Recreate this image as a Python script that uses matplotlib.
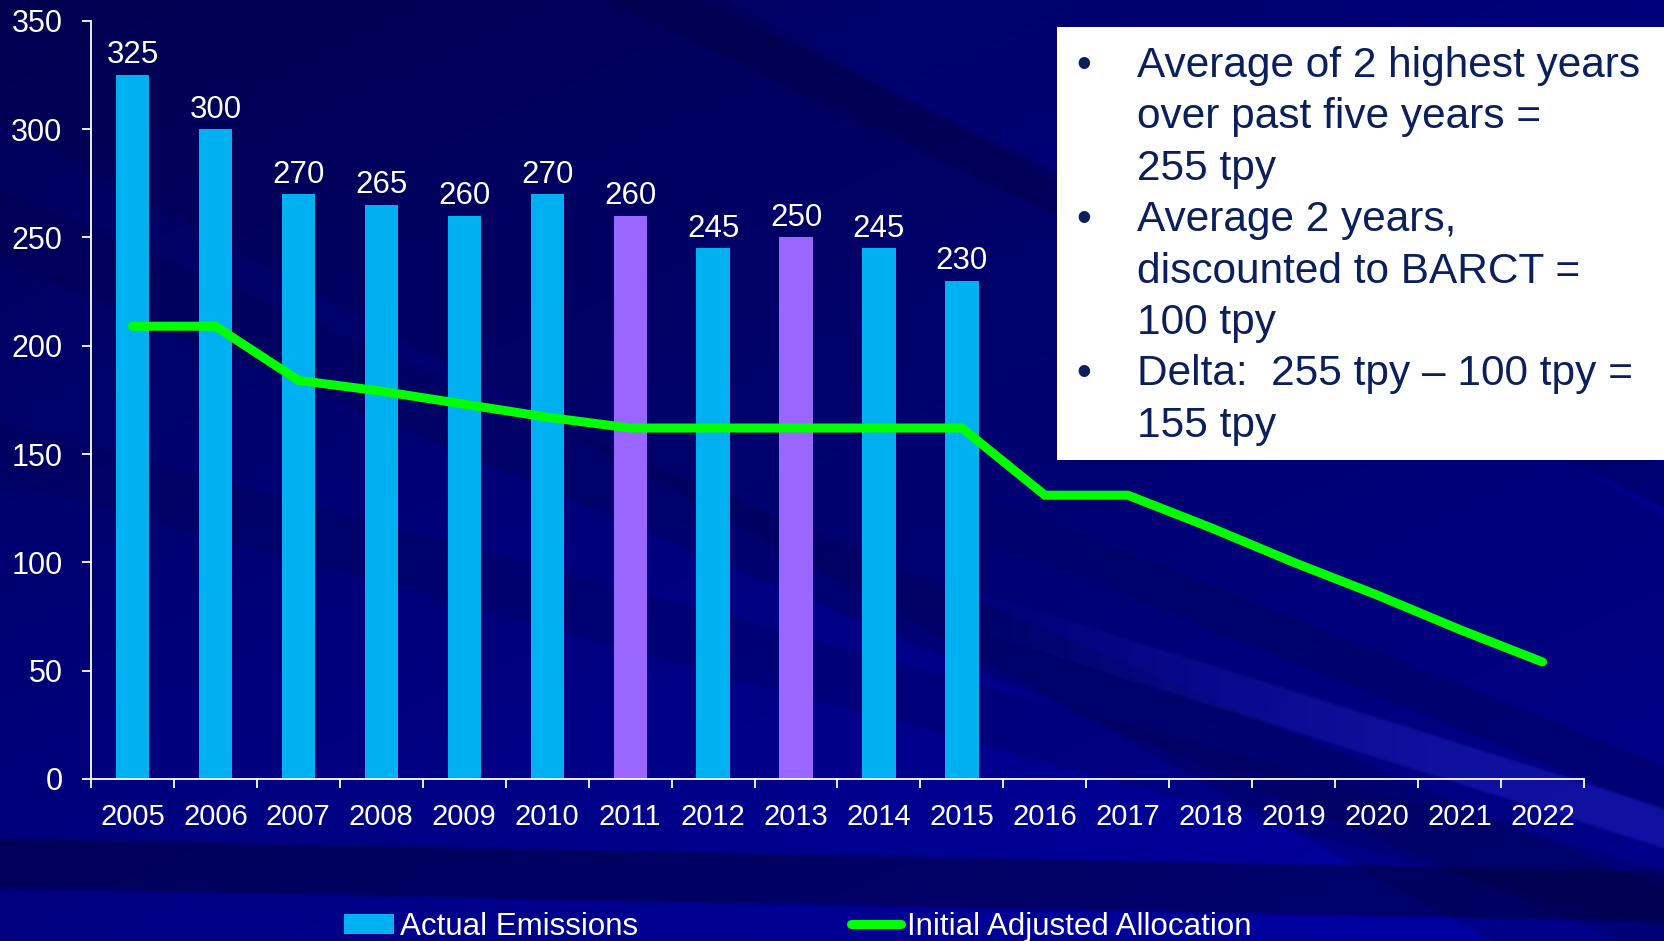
import numpy as np
import matplotlib
matplotlib.use('Agg')
import matplotlib.pyplot as plt
from matplotlib.patches import Rectangle, Patch
from matplotlib.lines import Line2D

plt.rcParams['font.family'] = ['Liberation Sans', 'DejaVu Sans']

# data
years = ['2005', '2006', '2007', '2008', '2009', '2010', '2011', '2012', '2013',
         '2014', '2015', '2016', '2017', '2018', '2019', '2020', '2021', '2022']
emissions = [325, 300, 270, 265, 260, 270, 260, 245, 250, 245, 230]
highlight = [False, False, False, False, False, False, True, False, True, False, False]
allocation = [209, 209, 184, 179, 173, 167, 162, 162, 162, 162, 162,
              131, 131, 116, 100, 85, 69, 54]
notes = [('•', 'Average of 2 highest years'),
         ('', 'over past five years ='),
         ('', '255 tpy'),
         ('•', 'Average 2 years,'),
         ('', 'discounted to BARCT ='),
         ('', '100 tpy'),
         ('•', 'Delta:  255 tpy \u2013 100 tpy ='),
         ('', '155 tpy')]

W, H = 1665, 941
fig = plt.figure(figsize=(W / 100, H / 100), dpi=100)

# background: navy with soft diagonal streaks
yy, xx = np.mgrid[0:H, 0:W].astype(float)
img = np.zeros((H, W, 3))
img[..., 2] = 0.34 + 0.17 * (yy / H) + 0.14 * (xx / W)

def streak(img, x0, y0, slope, width, rgb, alpha, xa=-2, xb=-1):
    d = yy - (y0 + slope * (xx - x0))
    m = np.clip(np.minimum(d, width - d) / 4 + 0.5, 0, 1)
    ramp = np.clip((xx - xa) / (xb - xa), 0, 1)
    a = (alpha * m * ramp)[..., None]
    return img * (1 - a) + np.array(rgb) * a

img = streak(img, 0, -400, 0.55, 520, (0, 0, 0.25), 0.25)
img = streak(img, 700, 0, 0.48, 45, (0, 0, 0.25), 0.35)
img = streak(img, 0, 190, 0.42, 70, (0, 0, 0.25), 0.25)
img = streak(img, 0, 420, 0.27, 60, (0, 0, 0.25), 0.2)
img = streak(img, 1300, 693, 0.315, 40, (0.12, 0.12, 0.72), 0.55, 950, 1450)
img = streak(img, 1300, 620, 0.40, 45, (0, 0, 0.3), 0.3, 900, 1200)
img = streak(img, 0, 838, 0.02, 50, (0, 0, 0.22), 0.5)

bg = fig.add_axes([0, 0, 1, 1])
bg.imshow(np.clip(img, 0, 1), extent=[0, W, H, 0], aspect='auto')
bg.axis('off')

# chart
ax = fig.add_axes([91 / W, 1 - 779 / H, (1584 - 91) / W, (779 - 20.7) / H])
ax.patch.set_alpha(0)
x = np.arange(len(years))
xe = x[:len(emissions)]
colors = ['#9966ff' if h else '#00b0f0' for h in highlight]
ax.bar(xe, emissions, width=0.4, color=colors, zorder=2)
for xi, v in zip(xe, emissions):
    ax.annotate(str(v), (xi, v), xytext=(0, 14), textcoords='offset points',
                ha='center', va='center', color='white', fontsize=22.5)
ax.plot(x, allocation, color='#00ff00', lw=6.5, solid_capstyle='round',
        solid_joinstyle='miter', zorder=3)

ax.set_xlim(-0.5, len(years) - 0.5)
ax.set_ylim(0, 350)
ax.set_yticks(np.arange(0, 351, 50))
ax.set_xticks(np.arange(-0.5, len(years), 1))
ax.set_xticklabels([])
ax.set_xticks(x, minor=True)
ax.set_xticklabels(years, minor=True)
ax.tick_params(axis='x', which='major', length=6.5, width=1.3, color='white', direction='out')
ax.tick_params(axis='x', which='minor', length=0, pad=17, labelsize=21, labelcolor='white')
ax.tick_params(axis='y', length=6.5, width=1.3, color='white', pad=14,
               labelsize=22, labelcolor='white')
for s in ['top', 'right']:
    ax.spines[s].set_visible(False)
for s in ['left', 'bottom']:
    ax.spines[s].set_color('white')
    ax.spines[s].set_linewidth(1.3)

# note box
fig.patches.append(Rectangle((1057 / W, 1 - 460 / H), (W - 1057) / W, (460 - 26.7) / H,
                             transform=fig.transFigure, facecolor='white',
                             edgecolor='none', zorder=5))
for i, (bul, txt) in enumerate(notes):
    yb = 1 - (77 + 51.4 * i) / H
    if bul:
        fig.text(1084 / W, yb, bul, ha='center', va='baseline', fontsize=30.5,
                 color='#0a1f5c', zorder=6)
    fig.text(1137 / W, yb, txt, ha='left', va='baseline', fontsize=30.5,
             color='#0a1f5c', zorder=6)

# legend
handles = [Patch(facecolor='#00b0f0', label='Actual Emissions'),
           Line2D([], [], color='#00ff00', lw=6.5, solid_capstyle='round',
                  label='Initial Adjusted Allocation')]
fig.legend(handles=handles, ncol=2, loc='center', bbox_to_anchor=(0.479, 0.015),
           frameon=False, fontsize=22.5, labelcolor='white', handlelength=1.6,
           handleheight=0.6, handletextpad=0.2, columnspacing=6.8, borderpad=0)

fig.savefig('out.png', dpi=100)
